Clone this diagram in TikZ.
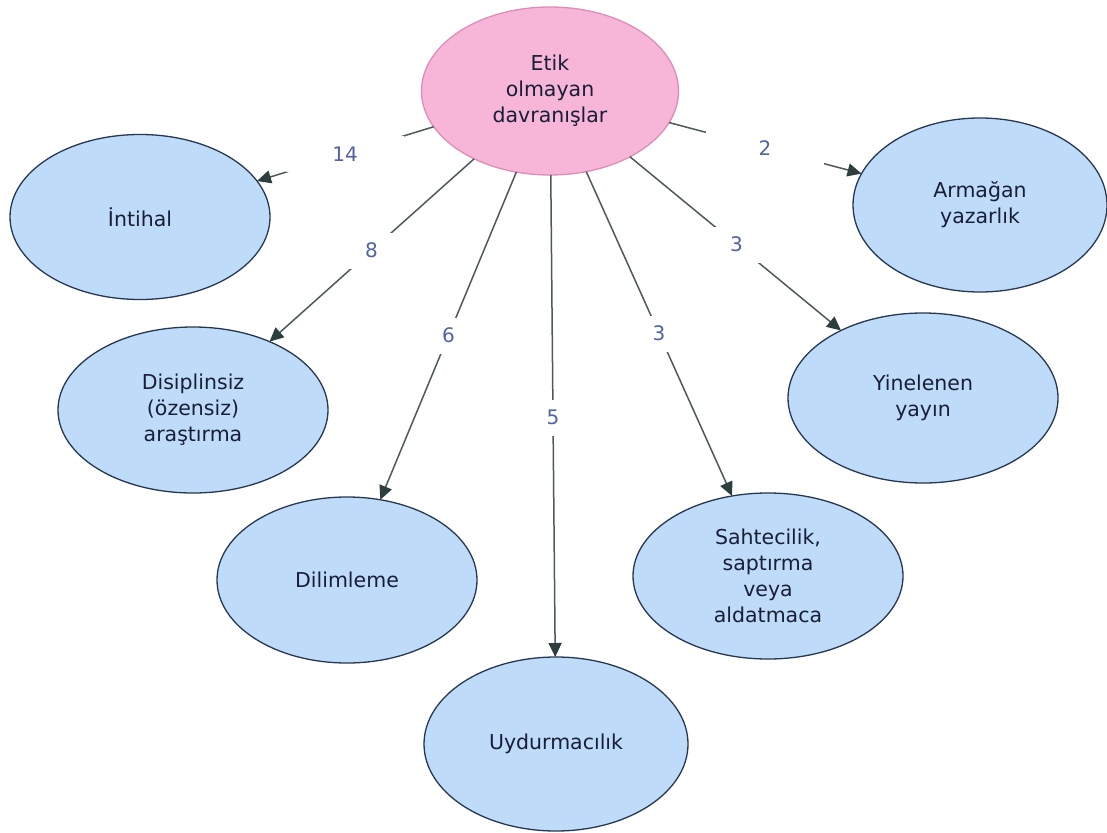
\documentclass[tikz,border=0pt]{standalone}
\usepackage{fontspec}
\setmainfont{DejaVu Sans}
\usetikzlibrary{arrows.meta, calc, shapes.geometric}
\definecolor{pinkfill}{RGB}{247,182,216}
\definecolor{pinkline}{RGB}{222,140,184}
\definecolor{bluefill}{RGB}{190,220,250}
\definecolor{blueline}{RGB}{40,55,80}
\definecolor{edgegray}{RGB}{78,90,90}
\definecolor{tipdark}{RGB}{45,62,62}
\definecolor{numblue}{RGB}{82,98,168}
\definecolor{txtnavy}{RGB}{25,30,55}
\tikzset{topic/.style = {ellipse, draw=blueline, fill=bluefill, line width=1.3pt, inner sep=0pt, outer sep=0pt, align=center, text=txtnavy, font=\fontsize{20.5}{26}\selectfont}}
\tikzset{main/.style = {topic, draw=pinkline, fill=pinkfill}}
\tikzset{num/.style = {fill=white, text=numblue, inner sep=0pt, minimum width=118pt, minimum height=36pt, font=\fontsize{20}{24}\selectfont}}
\tikzset{link/.style = {draw=edgegray, line width=1.5pt, -{Triangle[length=14pt, width=13pt, color=tipdark]}}}

\begin{document}
\begin{tikzpicture}[x=1pt, y=-1pt]
\useasboundingbox [fill=white] (0,0) rectangle (1107,832);
\node [main, minimum width=257pt, minimum height=168pt] (c) at (550,91) {Etik\\olmayan\\davranışlar};
\node [topic, minimum width=260pt, minimum height=165pt] (i) at (140,217) {İntihal};
\node [topic, minimum width=270pt, minimum height=166pt] (d) at (193,410) {Disiplinsiz\\(özensiz)\\araştırma};
\node [topic, minimum width=260pt, minimum height=166pt] (dl) at (347,580) {Dilimleme};
\node [topic, minimum width=264pt, minimum height=174pt] (u) at (556,744) {Uydurmacılık};
\node [topic, minimum width=270pt, minimum height=166pt] (s) at (768,576) {Sahtecilik,\\saptırma\\veya\\aldatmaca};
\node [topic, minimum width=270pt, minimum height=170pt] (y) at (923,398) {Yinelenen\\yayın};
\node [topic, minimum width=254pt, minimum height=174pt] (a) at (980,205) {Armağan\\yazarlık};
\foreach \t in {i, d, dl, u, s, y, a}
  \draw [link] (c) -- (\t);
\foreach \t/\n in {i/14, d/8, dl/6, u/5, s/3, y/3, a/2}
  \node [num] (n\t) at ($(c)!0.5!(\t)$) {\n};
\end{tikzpicture}
\end{document}
